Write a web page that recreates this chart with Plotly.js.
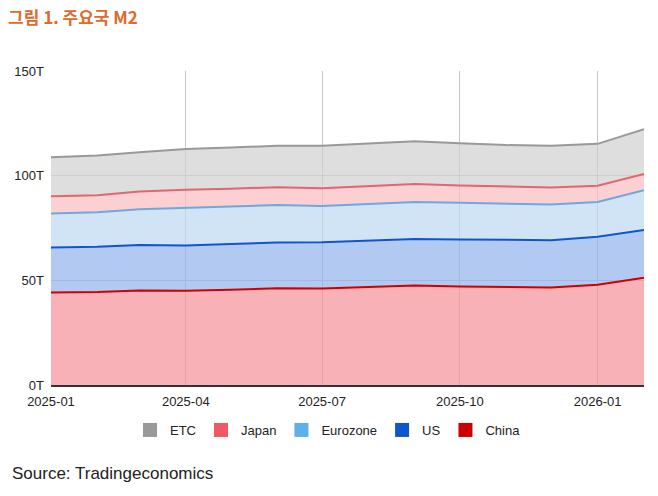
<!DOCTYPE html>
<html>
<head>
<meta charset="utf-8">
<script src="https://cdn.plot.ly/plotly-3.0.1.min.js"></script>
<style>html,body{margin:0;padding:0;background:#fff;}#chart{width:658px;height:496px;}</style>
</head>
<body>
<div id="chart"></div>
<script>
// Months (monthly M2 observations)
const months = ["2025-01-01","2025-02-01","2025-03-01","2025-04-01","2025-05-01","2025-06-01","2025-07-01","2025-08-01","2025-09-01","2025-10-01","2025-11-01","2025-12-01","2026-01-01","2026-02-01"];
// Series values in trillions (USD), stacked bottom to top: China, US, Eurozone, Japan, ETC
const china    = [44.2,44.4,45.2,45.0,45.5,46.2,46.1,46.8,47.5,47.1,46.8,46.6,47.9,51.2];
const us       = [21.5,21.6,21.7,21.6,21.8,21.9,22.1,22.2,22.3,22.4,22.5,22.6,22.9,22.8];
const eurozone = [16.2,16.5,17.0,17.9,17.9,17.9,17.3,17.5,17.6,17.6,17.2,17.0,16.6,19.0];
const japan    = [8.3,8.1,8.5,8.8,8.6,8.5,8.5,8.6,8.6,8.2,8.2,8.2,7.8,7.8];
const etc      = [18.6,19.0,18.8,19.4,19.6,19.8,20.3,20.2,20.4,20.2,19.9,19.9,20.0,21.4];
const yTickVals = [0,50,100,150];
const yTickText = ["0T","50T","100T","150T"];
const xTickVals = ["2025-01-01","2025-04-01","2025-07-01","2025-10-01","2026-01-01"];
const xTickText = ["2025-01","2025-04","2025-07","2025-10","2026-01"];

const series = [
  {name:"China",    y:china,    line:"#cc0000", fill:"rgba(245,144,151,0.7)", legend:"#cc0000"},
  {name:"US",       y:us,       line:"#1155cc", fill:"rgba(146,179,236,0.7)", legend:"#1155cc"},
  {name:"Eurozone", y:eurozone, line:"#6fa8dc", fill:"rgba(188,216,241,0.7)", legend:"#5fb0e6"},
  {name:"Japan",    y:japan,    line:"#e06670", fill:"rgba(251,188,192,0.7)", legend:"#ee5a64"},
  {name:"ETC",      y:etc,      line:"#999999", fill:"rgba(208,208,208,0.7)", legend:"#999999"}
];

const traces = series.map(s => ({
  type:"scatter", mode:"lines", x:months, y:s.y, name:s.name,
  stackgroup:"m2", fillcolor:s.fill,
  line:{color:s.line, width:2, shape:"linear"},
  showlegend:false, hoverinfo:"skip"
}));
// legend-only square markers, in reference order
series.slice().reverse().forEach(s => {
  traces.push({type:"scatter", mode:"markers", x:[null], y:[null], name:s.name,
    marker:{symbol:"square", size:14, color:s.legend}, showlegend:true});
});

const layout = {
  width:658, height:496,
  margin:{l:51, r:14, t:71, b:111},
  paper_bgcolor:"#fff", plot_bgcolor:"#fff",
  font:{family:"Liberation Sans, Arial, sans-serif", size:13, color:"#222"},
  title:{text:"<b>그림 1. 주요국 M2</b>", font:{family:"Noto Sans CJK KR, sans-serif", size:17, color:"#e0692b"},
         xref:"container", yref:"container", x:8/658, y:1-18/496, xanchor:"left", yanchor:"middle"},
  xaxis:{type:"date", range:["2025-01-01","2026-02-01"], tickvals:xTickVals, ticktext:xTickText,
         showgrid:true, gridcolor:"#c8c8c8", gridwidth:1, showline:true, linecolor:"#333", linewidth:1.5,
         ticks:"", ticklabelstandoff:4, tickfont:{size:13, color:"#222"}, zeroline:false, fixedrange:true},
  yaxis:{range:[0,150], tickvals:yTickVals, ticktext:yTickText, showgrid:true, gridcolor:"#c8c8c8", gridwidth:1,
         zeroline:false, showline:false, ticks:"", ticklabelstandoff:6, tickfont:{size:13, color:"#222"}, fixedrange:true},
  showlegend:true,
  legend:{orientation:"h", x:(328-51)/593, xanchor:"center", y:(385-430)/314, yanchor:"middle",
          font:{size:13, color:"#222"}, itemwidth:30, traceorder:"normal", bgcolor:"rgba(0,0,0,0)"},
  annotations:[{text:"Source: Tradingeconomics", xref:"paper", yref:"paper", x:(10-51)/593, y:(385-473)/314,
                xanchor:"left", yanchor:"middle", showarrow:false, font:{size:17, color:"#222"}}]
};
Plotly.newPlot("chart", traces, layout, {displayModeBar:false, staticPlot:true});
</script>
</body>
</html>
